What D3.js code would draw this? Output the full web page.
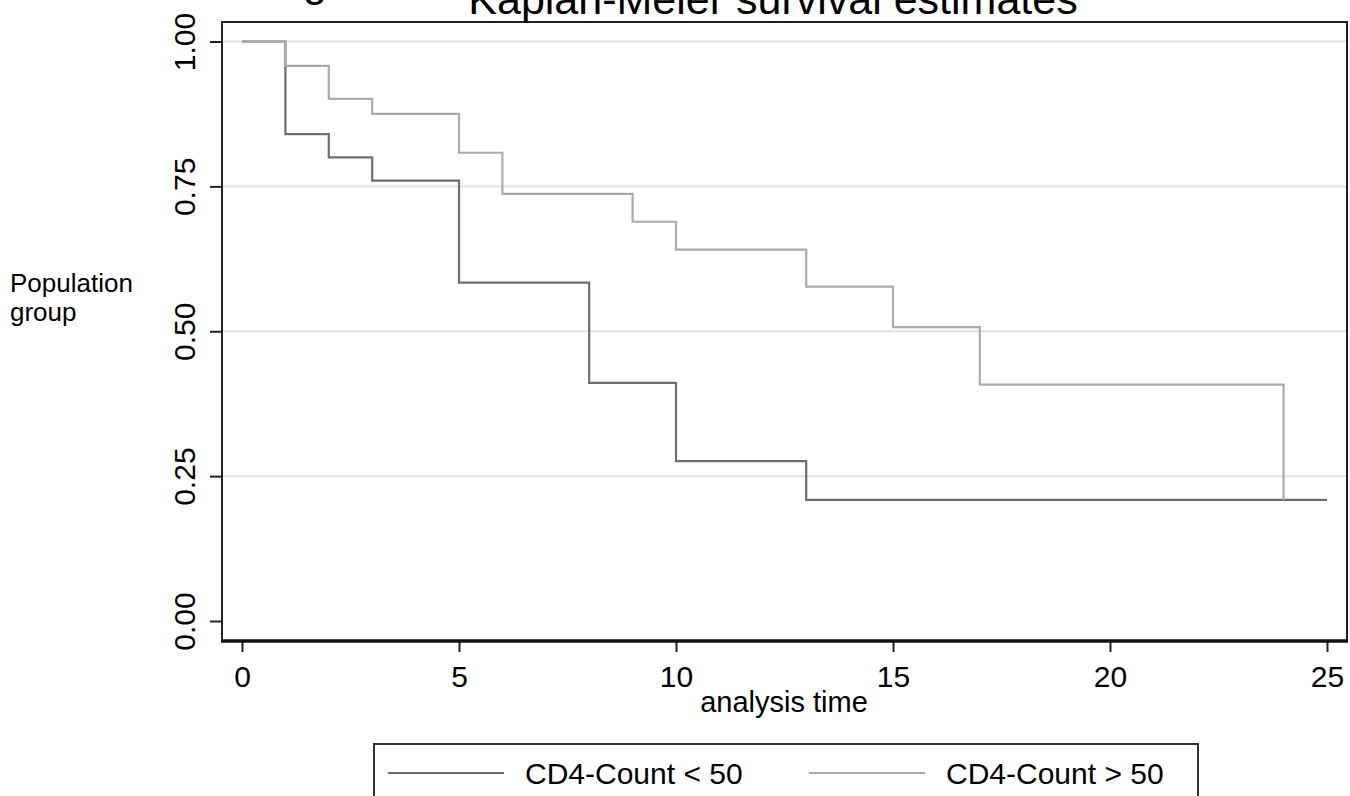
<!DOCTYPE html>
<html>
<head>
<meta charset="utf-8">
<script src="https://cdn.jsdelivr.net/npm/d3@7"></script>
<style>
  body { margin: 0; background: #fff; }
  text { font-family: "Liberation Sans", Arial, sans-serif; }
</style>
</head>
<body>
<svg id="plot"></svg>
<script>
// Kaplan-Meier estimates
var timesLow = [0, 1, 2, 3, 5, 8, 10, 13, 25];
var survLow  = [1, 0.84, 0.80, 0.76, 0.584, 0.411, 0.276, 0.209, 0.209];
var timesHigh = [0, 1, 2, 3, 5, 6, 9, 10, 13, 15, 17, 24];
var survHigh  = [1, 0.958, 0.901, 0.875, 0.808, 0.737, 0.689, 0.641, 0.577, 0.507, 0.408, 0.209];
var seriesNames = ["CD4-Count < 50", "CD4-Count > 50"];
var xTicks = [0, 5, 10, 15, 20, 25];
var yTicks = [0, 0.25, 0.5, 0.75, 1];

var width = 1350, height = 796;
var frame = {left: 222, top: 22, right: 1347, bottom: 641};

var svg = d3.select("#plot")
    .attr("width", width)
    .attr("height", height);

svg.append("rect")
    .attr("width", width).attr("height", height)
    .attr("fill", "#fff");

var xScale = d3.scaleLinear()
    .domain([0, 25])
    .range([242, 1327]);
var yScale = d3.scaleLinear()
    .domain([0, 1])
    .range([621, 41.5]);

// grid lines
svg.append("g")
  .selectAll("line")
  .data(yTicks.filter(d => d > 0))
  .join("line")
    .attr("x1", frame.left).attr("x2", frame.right)
    .attr("y1", d => yScale(d)).attr("y2", d => yScale(d))
    .attr("stroke", "#e2e2e2")
    .attr("stroke-width", 2);

// curves
var line = d3.line()
    .curve(d3.curveStepAfter)
    .x(d => xScale(d[0]))
    .y(d => yScale(d[1]));

var curves = [
  {name: seriesNames[0], pts: d3.zip(timesLow, survLow), color: "#6e6e6e"},
  {name: seriesNames[1], pts: d3.zip(timesHigh, survHigh), color: "#ababab"}
];

svg.append("g")
    .attr("fill", "none")
    .attr("stroke-width", 2.2)
  .selectAll("path")
  .data(curves)
  .join("path")
    .attr("stroke", d => d.color)
    .attr("d", d => line(d.pts));

// frame
svg.append("path")
    .attr("d", "M" + frame.left + "," + frame.bottom + "V" + frame.top + "H" + frame.right + "V" + frame.bottom)
    .attr("fill", "none")
    .attr("stroke", "#222")
    .attr("stroke-width", 2);

// axes
var xAxis = d3.axisBottom(xScale)
    .tickValues(xTicks)
    .tickSize(11)
    .tickPadding(14)
    .tickSizeOuter(0);
var gX = svg.append("g")
    .attr("transform", "translate(0," + frame.bottom + ")")
    .call(xAxis);
gX.select(".domain").remove();
gX.append("line")
    .attr("x1", frame.left - 1).attr("x2", frame.right + 1)
    .attr("stroke", "#111").attr("stroke-width", 3.5);
gX.selectAll(".tick line").attr("stroke", "#222").attr("stroke-width", 2);
gX.selectAll(".tick text")
    .attr("fill", "#000")
    .attr("font-size", 30)
    .attr("font-family", "Liberation Sans, Arial, sans-serif");

var yAxis = d3.axisLeft(yScale)
    .tickValues(yTicks)
    .tickFormat(d3.format(".2f"))
    .tickSize(12)
    .tickSizeOuter(0);
var gY = svg.append("g")
    .attr("transform", "translate(" + frame.left + ",0)")
    .call(yAxis);
gY.select(".domain").remove();
gY.selectAll(".tick line").attr("stroke", "#222").attr("stroke-width", 2);
gY.selectAll(".tick text")
    .attr("fill", "#000")
    .attr("font-size", 30)
    .attr("font-family", "Liberation Sans, Arial, sans-serif")
    .attr("transform", "rotate(-90)")
    .attr("x", 0)
    .attr("y", -27)
    .attr("dy", 0)
    .attr("text-anchor", "middle");

// titles (cut off at the top in the original)
svg.append("text")
    .attr("x", 773).attr("y", 14)
    .attr("text-anchor", "middle")
    .attr("font-size", 43)
    .text("Kaplan-Meier survival estimates");
svg.append("text")
    .attr("x", 303).attr("y", -4)
    .attr("font-size", 43)
    .text("g");

svg.append("text")
    .attr("x", 784).attr("y", 712)
    .attr("text-anchor", "middle")
    .attr("font-size", 29)
    .text("analysis time");

var side = svg.append("text")
    .attr("font-size", 26);
side.append("tspan").attr("x", 10).attr("y", 292).text("Population");
side.append("tspan").attr("x", 10).attr("y", 321).text("group");

// legend
var legend = svg.append("g");
legend.append("rect")
    .attr("x", 374).attr("y", 744)
    .attr("width", 824).attr("height", 80)
    .attr("fill", "#fff")
    .attr("stroke", "#333")
    .attr("stroke-width", 2);

var legendX = d3.scalePoint()
    .domain(seriesNames)
    .range([388, 809]);

var item = legend.selectAll("g.item")
  .data(curves)
  .join("g")
    .attr("class", "item")
    .attr("transform", d => "translate(" + legendX(d.name) + ",773)");
item.append("line")
    .attr("x1", 0).attr("x2", 116)
    .attr("stroke", d => d.color)
    .attr("stroke-width", 2.2);
item.append("text")
    .attr("x", 137).attr("y", 11)
    .attr("font-size", 30)
    .text(d => d.name);
</script>
</body>
</html>
